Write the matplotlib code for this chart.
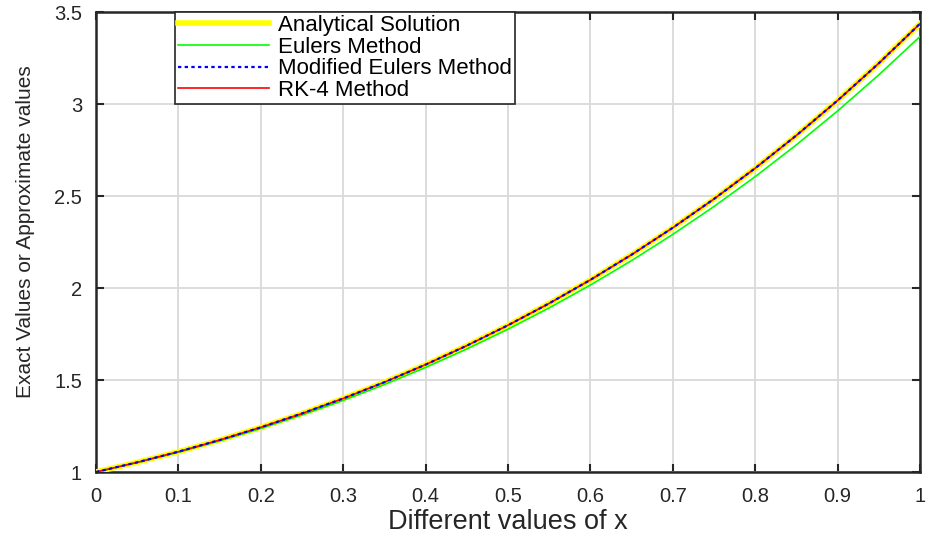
import matplotlib
matplotlib.use("Agg")
import matplotlib.pyplot as plt

x_vals = [0.00, 0.05, 0.10, 0.15, 0.20, 0.25, 0.30, 0.35, 0.40, 0.45, 0.50,
          0.55, 0.60, 0.65, 0.70, 0.75, 0.80, 0.85, 0.90, 0.95, 1.00]
analytical = [1.0000, 1.0525, 1.1103, 1.1737, 1.2428, 1.3181, 1.3997, 1.4881,
              1.5836, 1.6866, 1.7974, 1.9165, 2.0442, 2.1811, 2.3275, 2.4840,
              2.6511, 2.8293, 3.0192, 3.2214, 3.4366]
euler = [1.0000, 1.0511, 1.1075, 1.1692, 1.2365, 1.3098, 1.3893, 1.4753,
         1.5683, 1.6685, 1.7762, 1.8920, 2.0161, 2.1491, 2.2913, 2.4432,
         2.6053, 2.7782, 2.9623, 3.1583, 3.3667]
modified_euler = [1.0000, 1.0525, 1.1103, 1.1737, 1.2428, 1.3181, 1.3997, 1.4881,
                  1.5836, 1.6866, 1.7974, 1.9165, 2.0442, 2.1811, 2.3275, 2.4840,
                  2.6511, 2.8293, 3.0192, 3.2213, 3.4365]
rk4 = [1.0000, 1.0525, 1.1103, 1.1737, 1.2428, 1.3181, 1.3997, 1.4881,
       1.5836, 1.6866, 1.7974, 1.9165, 2.0442, 2.1811, 2.3275, 2.4840,
       2.6511, 2.8293, 3.0192, 3.2214, 3.4366]

x_ticks = [0, 0.1, 0.2, 0.3, 0.4, 0.5, 0.6, 0.7, 0.8, 0.9, 1]
x_ticklabels = ["0", "0.1", "0.2", "0.3", "0.4", "0.5", "0.6", "0.7", "0.8", "0.9", "1"]
y_ticks = [1, 1.5, 2, 2.5, 3, 3.5]
y_ticklabels = ["1", "1.5", "2", "2.5", "3", "3.5"]

plt.rcParams["font.family"] = ["Liberation Sans", "DejaVu Sans"]
ink = "#262626"

fig = plt.figure(figsize=(9.31, 5.36), dpi=100)
ax = fig.add_axes([0.1031, 0.1194, 0.8851, 0.8582])

ax.plot(x_vals, analytical, color="#ffff00", lw=4.0, label="Analytical Solution", zorder=3)
ax.plot(x_vals, euler, color="#00ff00", lw=1.2, label="Eulers Method", zorder=4)
ax.plot(x_vals, modified_euler, color="#0000ff", lw=1.6, ls=(0, (1.5, 1.5)),
        label="Modified Eulers Method", zorder=5)
ax.plot(x_vals, rk4, color="#ff0000", lw=1.2, label="RK-4 Method", zorder=4)

ax.set_xlim(0, 1)
ax.set_ylim(1, 3.5)
ax.set_xticks(x_ticks)
ax.set_xticklabels(x_ticklabels)
ax.set_yticks(y_ticks)
ax.set_yticklabels(y_ticklabels)
ax.tick_params(direction="in", top=True, right=True, length=6, width=1.5,
               labelsize=14.5, colors=ink)
ax.tick_params(axis="x", pad=10.5)
ax.tick_params(axis="y", pad=10)
ax.grid(True, color="#d9d9d9", lw=1.3)
ax.set_axisbelow(True)
for s in ax.spines.values():
    s.set_linewidth(1.8)
    s.set_color(ink)

ax.set_xlabel("Different values of x", fontsize=19.5, color=ink, labelpad=2.5)
ax.set_ylabel("Exact Values or Approximate values", fontsize=15, color=ink)
ax.yaxis.set_label_coords(-0.0740, 0.522)

leg = ax.legend(loc="upper left", bbox_to_anchor=(0.0959, 1.0), fontsize=16,
                handlelength=4.1, handletextpad=0.38, labelspacing=0.03,
                borderpad=0.14, fancybox=False, framealpha=1, edgecolor=ink,
                borderaxespad=0)
leg.get_frame().set_linewidth(1.2)

fig.savefig("out.png", dpi=100)
